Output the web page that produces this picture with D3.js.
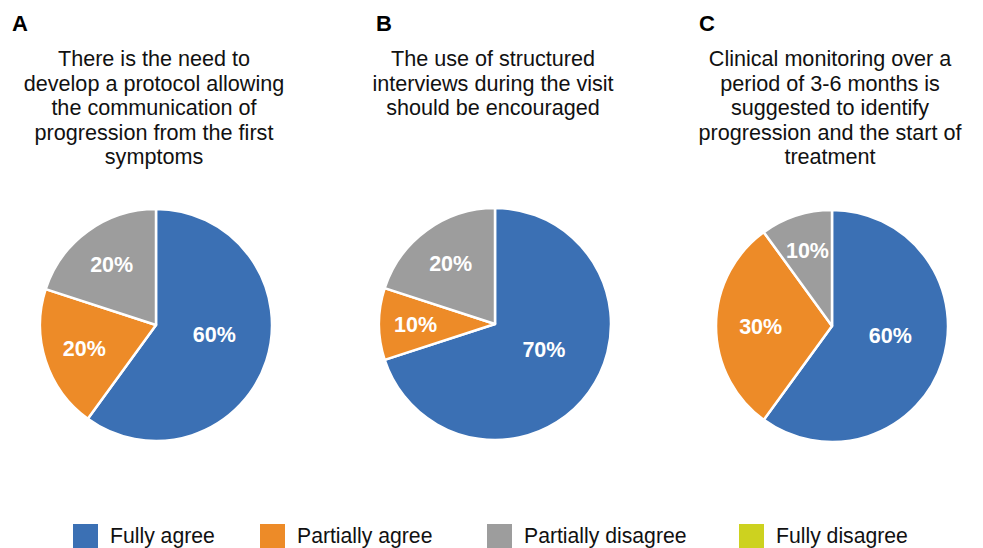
<!DOCTYPE html>
<html><head><meta charset="utf-8">
<script src="https://cdn.jsdelivr.net/npm/d3@7"></script>
<style>body{margin:0;background:#fff}svg{display:block}text{font-family:"Liberation Sans",Arial,sans-serif}</style>
</head><body>
<svg id="c" width="983" height="548"></svg>
<script>
const categories = ["Fully agree", "Partially agree", "Partially disagree", "Fully disagree"];
const colors = ["#3B70B4", "#ED8B28", "#9D9D9D", "#CDD21F"];
const panelLetters = ["A", "B", "C"];
const panelTitles = [
  ["There is the need to", "develop a protocol allowing", "the communication of", "progression from the first", "symptoms"],
  ["The use of structured", "interviews during the visit", "should be encouraged"],
  ["Clinical monitoring over a", "period of 3-6 months is", "suggested to identify", "progression and the start of", "treatment"]
];
const valuesA = [60, 20, 20, 0];
const valuesB = [70, 10, 20, 0];
const valuesC = [60, 30, 10, 0];
const panelValues = [valuesA, valuesB, valuesC];

const svg = d3.select("#c");
const centersX = [156, 495, 832];
const centersY = [325, 324, 326];
const letterX = [12, 376, 699];
const legendX = [73, 260, 487, 739];
const R = 116;

const pie = d3.pie().sort(null).value(d => d.v);
const arc = d3.arc().innerRadius(0).outerRadius(R);

panelValues.forEach((vals, p) => {
  svg.append("text").attr("x", letterX[p]).attr("y", 31)
    .attr("font-size", 22).attr("font-weight", "bold").attr("fill", "#000").text(panelLetters[p]);
  const t = svg.append("text").attr("text-anchor", "middle").attr("font-size", 21.6).attr("fill", "#111");
  panelTitles[p].forEach((line, i) => {
    t.append("tspan").attr("x", centersX[p] - 2).attr("y", 66 + i * 24.6).text(line);
  });
  const g = svg.append("g").attr("transform", `translate(${centersX[p]},${centersY[p]})`);
  const data = vals.map((v, i) => ({v, i}));
  const arcs = pie(data).filter(a => a.data.v > 0);
  g.selectAll("path").data(arcs).join("path")
    .attr("d", arc).attr("fill", d => colors[d.data.i])
    .attr("stroke", "#fff").attr("stroke-width", 2.5).attr("stroke-linejoin", "round");
  const total = d3.sum(vals);
  g.selectAll("text").data(arcs).join("text")
    .attr("transform", d => {
      const f = d.data.v / total;
      const r = R * (0.72 - 0.35 * f);
      const a = (d.startAngle + d.endAngle) / 2 - (f > 0.5 ? 0.15 : 0);
      return `translate(${r * Math.sin(a)},${-r * Math.cos(a) + 7.5})`;
    })
    .attr("text-anchor", "middle").attr("font-size", 21.5).attr("font-weight", "bold")
    .attr("fill", "#fff").text(d => Math.round(d.data.v / total * 100) + "%");
});

// legend
const lg = svg.append("g");
categories.forEach((c, i) => {
  lg.append("rect").attr("x", legendX[i]).attr("y", 524).attr("width", 25).attr("height", 24).attr("fill", colors[i]);
  lg.append("text").attr("x", legendX[i] + 37).attr("y", 543).attr("font-size", 21.2).attr("fill", "#111").text(c);
});
</script>
</body></html>
